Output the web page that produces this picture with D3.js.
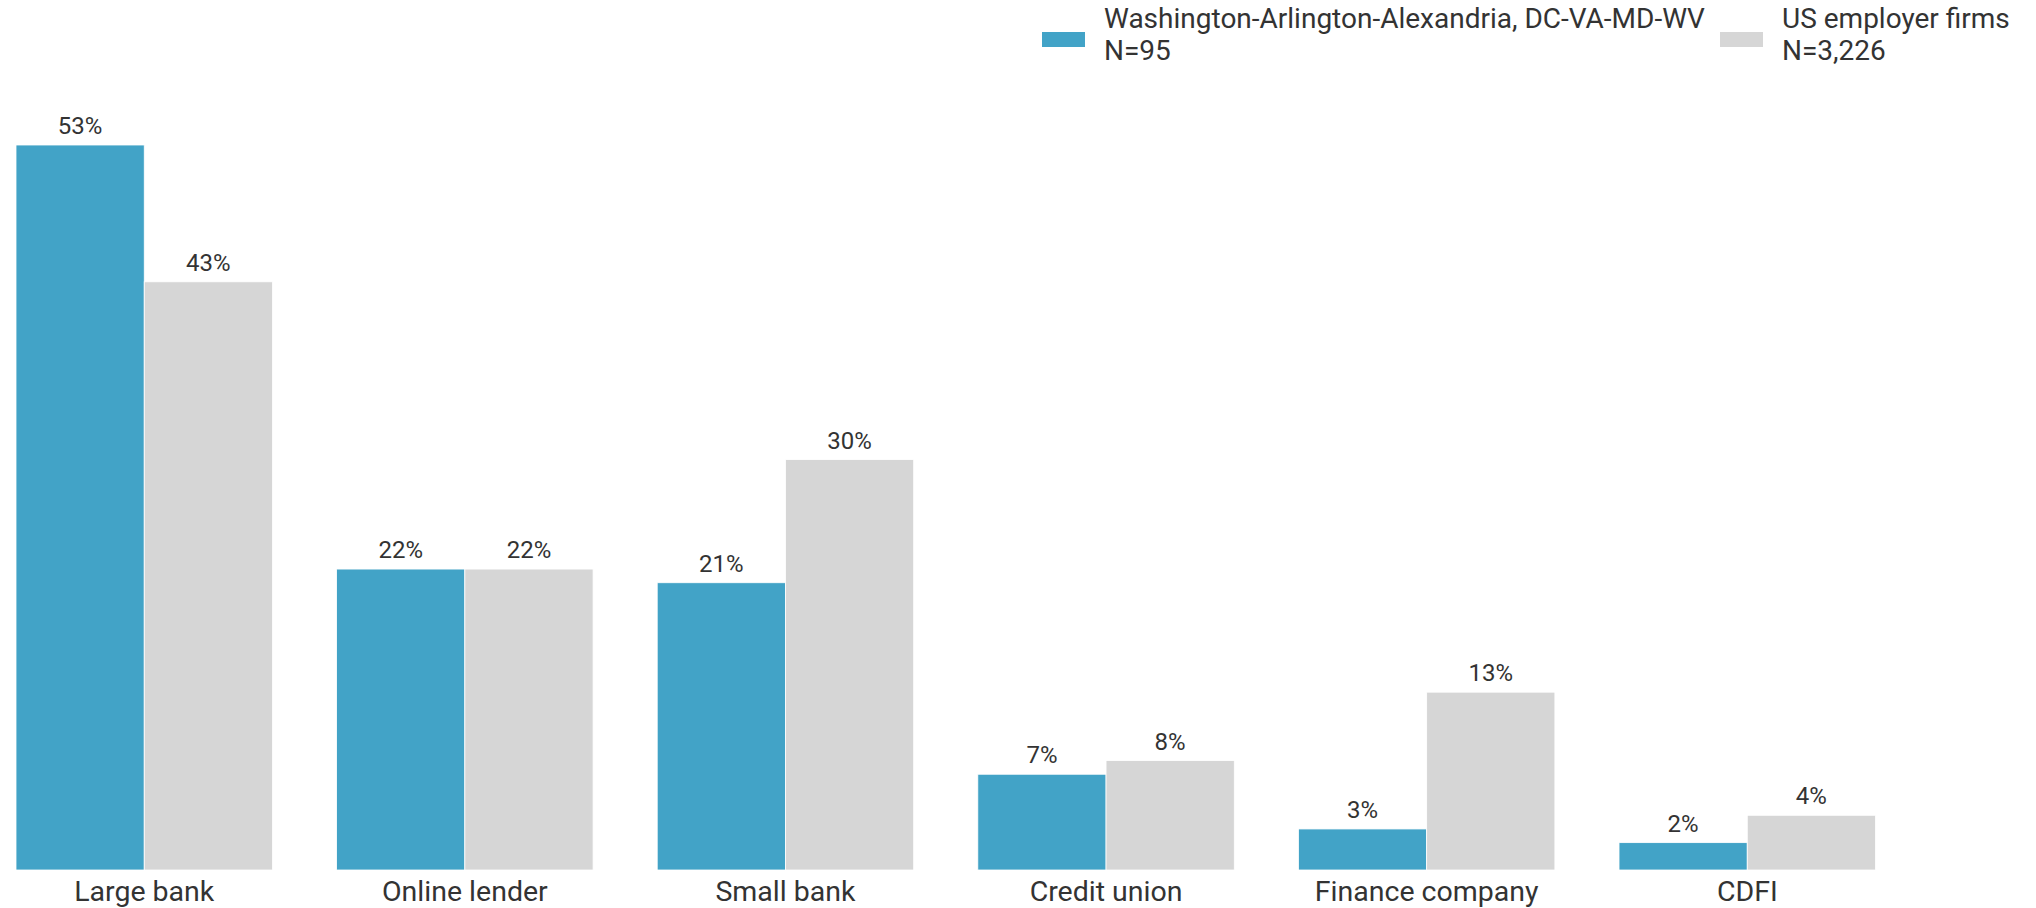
<!DOCTYPE html>
<html>
<head>
<meta charset="utf-8">
<script src="https://cdn.jsdelivr.net/npm/d3@7"></script>
<style>
  html, body { margin: 0; padding: 0; background: #fff; }
  svg { display: block; font-family: Roboto, "Noto Sans", sans-serif; }
</style>
</head>
<body>
<svg id="chart" width="2036" height="908"></svg>
<script>
const categories = ["Large bank", "Online lender", "Small bank", "Credit union", "Finance company", "CDFI"];
const seriesNames = ["Washington-Arlington-Alexandria, DC-VA-MD-WV", "US employer firms"];
const seriesN = ["N=95", "N=3,226"];
const dcValues = [53, 22, 21, 7, 3, 2];
const usValues = [43, 22, 30, 8, 13, 4];
const colors = ["#42a3c7", "#d6d6d6"];

const svg = d3.select("#chart");
const baseline = 870;

const x0 = d3.scaleBand().domain(categories).range([16, 1875.5]).paddingInner(0.2).paddingOuter(0);
const x1 = d3.scaleBand().domain([0, 1]).range([0, x0.bandwidth()]).padding(0);
const y = d3.scaleLinear().domain([0, 53]).range([baseline, 145]);

const rows = categories.map((c, i) => ({ cat: c, vals: [dcValues[i], usValues[i]] }));

const g = svg.selectAll("g.grp").data(rows).join("g")
  .attr("class", "grp")
  .attr("transform", d => `translate(${x0(d.cat)},0)`);

g.selectAll("rect").data(d => d.vals.map((v, k) => ({ v, k }))).join("rect")
  .attr("x", d => x1(d.k))
  .attr("y", d => y(d.v))
  .attr("width", x1.bandwidth())
  .attr("height", d => baseline - y(d.v))
  .attr("fill", d => colors[d.k])
  .attr("stroke", "#fff")
  .attr("stroke-width", 0.8);

g.selectAll("text.val").data(d => d.vals.map((v, k) => ({ v, k }))).join("text")
  .attr("class", "val")
  .attr("x", d => x1(d.k) + x1.bandwidth() / 2)
  .attr("y", d => y(d.v) - 11)
  .attr("text-anchor", "middle")
  .attr("font-size", 24)
  .attr("fill", "#333")
  .text(d => d.v + "%");

// x axis labels
const xAxis = d3.axisBottom(x0).tickSize(0).tickPadding(0);
const ax = svg.append("g").attr("transform", `translate(0,${baseline})`).call(xAxis);
ax.select(".domain").remove();
ax.selectAll("text")
  .attr("font-size", 28.5)
  .attr("font-family", "Roboto, 'Noto Sans', sans-serif")
  .attr("fill", "#333")
  .attr("dy", null)
  .attr("y", 31);

// legend
const legendX = [1042, 1720];
const leg = svg.selectAll("g.leg").data(seriesNames).join("g")
  .attr("class", "leg")
  .attr("transform", (d, i) => `translate(${legendX[i]},0)`);
leg.append("rect")
  .attr("x", 0).attr("y", 32).attr("width", 43).attr("height", 15)
  .attr("fill", (d, i) => colors[i]);
leg.append("text")
  .attr("x", 62).attr("y", 28)
  .attr("font-size", 28).attr("fill", "#333")
  .text(d => d);
leg.append("text")
  .attr("x", 62).attr("y", 60)
  .attr("font-size", 28).attr("fill", "#333")
  .text((d, i) => seriesN[i]);
</script>
</body>
</html>
